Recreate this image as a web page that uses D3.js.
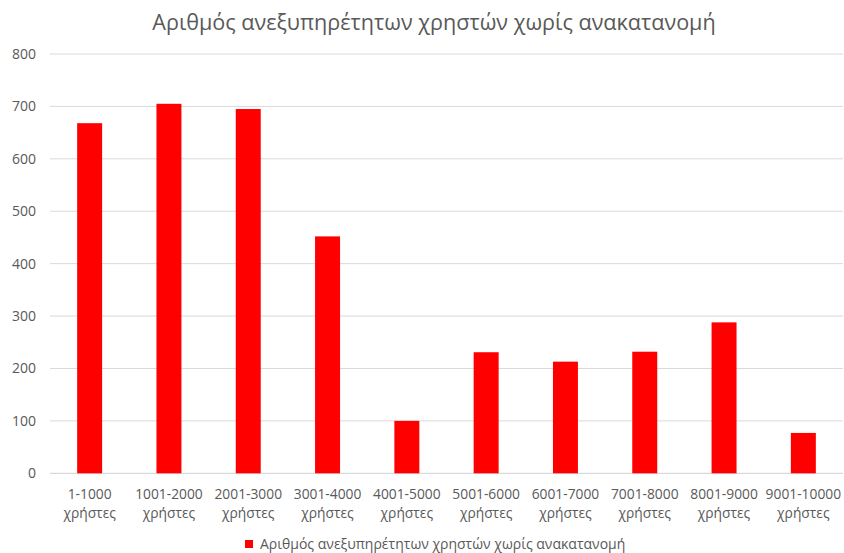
<!DOCTYPE html>
<html><head><meta charset="utf-8">
<script src="https://cdn.jsdelivr.net/npm/d3@7"></script>
<style>body{margin:0;background:#fff}svg{display:block}text{font-family:"Open Sans",sans-serif}</style>
</head><body><svg id="c" width="844" height="553"></svg>
<script>
const categories = ["1-1000","1001-2000","2001-3000","3001-4000","4001-5000","5001-6000","6001-7000","7001-8000","8001-9000","9001-10000"];
const categorySuffix = "χρήστες";
const values = [668,705,695,452,100,231,213,232,288,77];
const yTicks = [0,100,200,300,400,500,600,700,800];
const title = "Αριθμός ανεξυπηρέτητων χρηστών χωρίς ανακατανομή";
const seriesName = "Αριθμός ανεξυπηρέτητων χρηστών χωρίς ανακατανομή";

const svg = d3.select("#c");
const L=50, R=843, T=54, B=473.3;
const x = d3.scaleBand().domain(categories).range([L,R]).paddingInner(0.685).paddingOuter(0.3425);
const y = d3.scaleLinear().domain([0,800]).range([B,T]);

svg.append("g").selectAll("line").data(yTicks).join("line")
  .attr("x1",L).attr("x2",R).attr("y1",d=>y(d)).attr("y2",d=>y(d))
  .attr("stroke",d=>d===0?"#d0d0d0":"#d9d9d9").attr("stroke-width",1);

svg.append("g").selectAll("text").data(yTicks).join("text")
  .attr("x",36).attr("y",d=>y(d)+5).attr("text-anchor","end")
  .attr("font-size",14).attr("fill","#595959").text(d=>d);

svg.append("g").selectAll("rect").data(values).join("rect")
  .attr("x",(d,i)=>x(categories[i])).attr("width",x.bandwidth())
  .attr("y",d=>y(d)).attr("height",d=>B-y(d)).attr("fill","#ff0000");

const xl = svg.append("g").selectAll("text").data(categories).join("text")
  .attr("x",d=>x(d)+x.bandwidth()/2).attr("text-anchor","middle")
  .attr("font-size",13.8).attr("fill","#595959");
xl.append("tspan").attr("x",d=>x(d)+x.bandwidth()/2).attr("y",499).text(d=>d);
xl.append("tspan").attr("x",d=>x(d)+x.bandwidth()/2).attr("y",518).text(categorySuffix);

svg.append("text").attr("x",434).attr("y",30).attr("text-anchor","middle")
  .attr("font-size",21.6).attr("fill","#595959").text(title);

svg.append("rect").attr("x",245).attr("y",540).attr("width",8).attr("height",8).attr("fill","#ff0000");
svg.append("text").attr("x",260).attr("y",549).attr("font-size",14).attr("fill","#595959").text(seriesName);
</script></body></html>
